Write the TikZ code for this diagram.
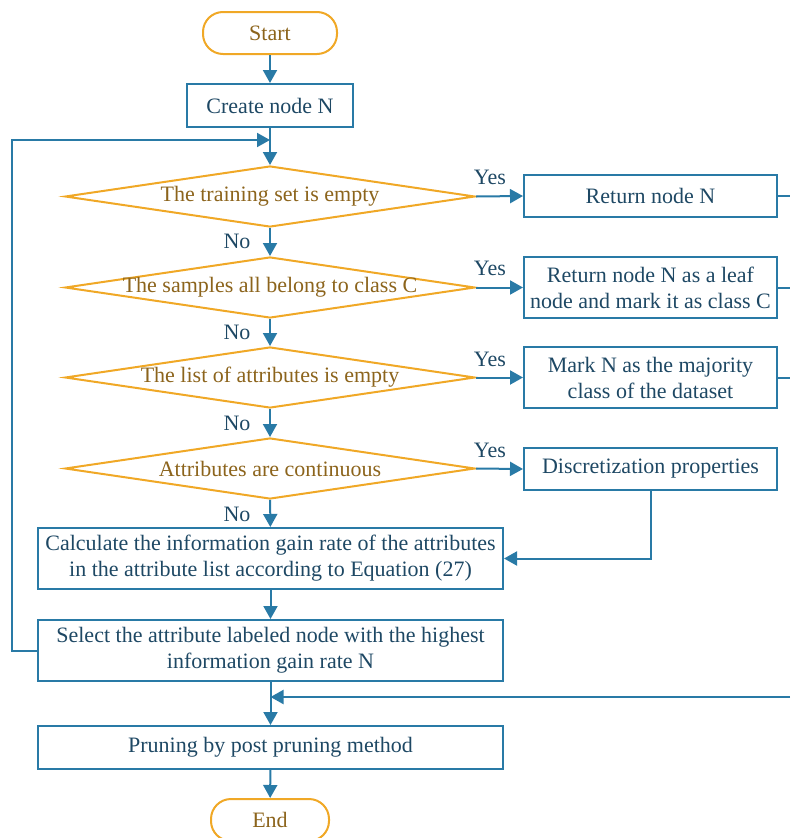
\documentclass[tikz,border=0pt]{standalone}
\usepackage{fontspec}
\setmainfont{Liberation Serif}
\usetikzlibrary{shapes.geometric,arrows.meta}
\definecolor{flowblue}{RGB}{41,122,166}
\definecolor{boxtext}{RGB}{30,72,100}
\definecolor{amber}{RGB}{240,168,38}
\definecolor{ambertext}{RGB}{140,100,28}
\begin{document}
\begin{tikzpicture}[x=1pt,y=-1pt,
  base/.style={font=\fontsize{22}{26}\selectfont},
  proc/.style={base, draw=flowblue, line width=2pt, text=boxtext, align=center, inner sep=0pt},
  decide/.style={base, diamond, draw=amber, line width=2pt, text=ambertext,
    minimum width=410pt, minimum height=61pt, aspect=6.7, inner ysep=0pt, inner xsep=-40pt},
  term/.style={base, draw=amber, line width=2pt, rounded corners=20pt, text=ambertext,
    minimum height=42pt, inner sep=0pt},
  flow/.style={draw=flowblue, line width=2pt, -{Triangle[length=13pt,width=14pt]}},
  link/.style={draw=flowblue, line width=2pt},
  lbl/.style={base, text=boxtext}
]
\useasboundingbox (0,0) rectangle (790,838);

% main column
\node[term, minimum width=134pt] (start) at (270,33) {Start};
\node[proc, minimum width=166pt, minimum height=43pt] (create) at (270,105.5) {Create node N};
\node[decide] (d1) at (270,196.5) {The training set is empty};
\node[decide] (d2) at (270,287.5) {The samples all belong to class C};
\node[decide] (d3) at (270,377.5) {The list of attributes is empty};
\node[decide] (d4) at (270,468.5) {Attributes are continuous};
\node[proc, minimum width=465pt, minimum height=61pt] (calc) at (270.5,558.5)
  {Calculate the information gain rate of the attributes\\in the attribute list according to Equation (27)};
\node[proc, minimum width=465pt, minimum height=61pt] (sel) at (270.5,650.5)
  {Select the attribute labeled node with the highest\\information gain rate N};
\node[proc, minimum width=465pt, minimum height=43pt] (prune) at (270.5,747.5) {Pruning by post pruning method};
\node[term, minimum width=118pt] (end) at (270,820) {End};

% right column
\node[proc, minimum width=253pt, minimum height=42pt] (b1) at (650.5,196) {Return node N};
\node[proc, minimum width=253pt, minimum height=61pt] (b2) at (650.5,287.5)
  {Return node N as a leaf\\node and mark it as class C};
\node[proc, minimum width=253pt, minimum height=61pt] (b3) at (650.5,377.5)
  {Mark N as the majority\\class of the dataset};
\node[proc, minimum width=253pt, minimum height=42pt] (b4) at (650.5,469) {Discretization properties};

% branch labels
\node[lbl] (y1) at (490,177) {Yes};
\node[lbl] (y2) at (490,268) {Yes};
\node[lbl] (y3) at (490,359) {Yes};
\node[lbl] (y4) at (490,450) {Yes};
\node[lbl] (n1) at (237,241) {No};
\node[lbl] (n2) at (237,332) {No};
\node[lbl] (n3) at (237,423) {No};
\node[lbl] (n4) at (237,514) {No};

% junction points
\coordinate (join1) at (270,140);
\coordinate (loopx) at (12,140);
\coordinate (join2) at (270.5,697);
\coordinate (r1) at (790,196);
\coordinate (r2) at (790,287.5);
\coordinate (r3) at (790,377.5);
\coordinate (r4) at (790,697);

% connectors
\draw[flow] (start) -- (create);
\draw[flow] (create) -- (d1);
\draw[flow] (d1) -- (d2);
\draw[flow] (d2) -- (d3);
\draw[flow] (d3) -- (d4);
\draw[flow] (d4) -- (calc);
\draw[flow] (calc) -- (sel);
\draw[flow] (sel) -- (prune);
\draw[flow] (prune) -- (end);

\draw[flow] (d1.east) -- (b1.west);
\draw[flow] (d2.east) -- (b2.west);
\draw[flow] (d3.east) -- (b3.west);
\draw[flow] (d4.east) -- (b4.west);

\draw[link] (b1.east) -- (r1);
\draw[link] (b2.east) -- (r2);
\draw[link] (b3.east) -- (r3);
\draw[flow] (r4) -- (join2);

\draw[flow] (b4.south) |- (calc.east);
\draw[flow] (sel.west) -| (loopx) -- (join1);
\end{tikzpicture}
\end{document}
